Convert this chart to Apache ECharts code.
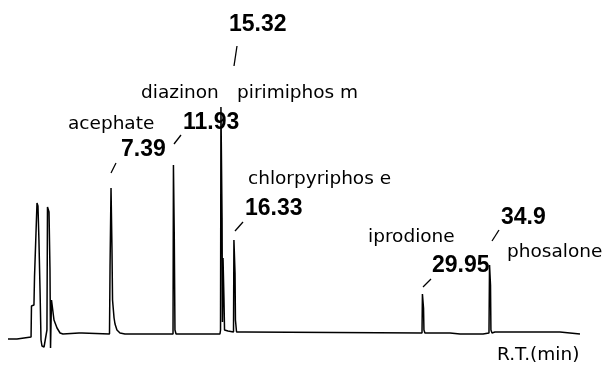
<!DOCTYPE html>
<html><head><meta charset="utf-8">
<script src="https://cdn.jsdelivr.net/npm/echarts@6/dist/echarts.min.js"></script>
<style>html,body{margin:0;padding:0;background:#fff}#c{width:604px;height:367px}</style>
</head><body><div id="c"></div>
<script>
// Retention time (min)
const retentionTimes = [0,0.65,0.72,1.67,1.70,1.88,1.92,2.03,2.10,2.17,2.24,2.32,2.39,2.46,2.61,2.75,2.82,2.86,2.97,3.04,3.08,3.11,3.15,3.26,3.33,3.55,3.77,3.98,5.14,5.36,5.40,
  7.35,7.39,7.46,7.53,7.57,7.60,7.68,7.75,7.89,8.11,8.47,
  11.95,11.98,12.04,12.09,12.17,
  15.35,15.39,15.42,15.50,15.53,15.57,15.64,15.68,15.79,15.93,16.33,16.36,16.44,16.47,16.55,17.16,
  29.98,30.01,30.09,30.12,30.19,32.01,32.08,32.73,34.40,
  34.83,34.87,34.94,34.97,35.05,35.26,39.97,40.04,41.42];
// Detector response (arbitrary units)
const responses = [-5,-5,-3,-3,28,29,57,58,131,128,94,44,-6,-12,-13,-12,4,127,122,64,-14,-12,34,32,14,6,1,0,1,1,0,
  0,68,146,84,34,29,16,10,4,1,0,
  0,169,98,4,0,
  0,4,227,116,12,76,34,4,3,3,2,94,61,14,2,2,
  1,40,26,4,1,1,0,0,0,
  1,69,49,4,1,2,2,0,0];
// Peak annotations
const compoundNames = ["acephate","diazinon","pirimiphos m","chlorpyriphos e","iprodione","phosalone"];
const peakTimeLabels = ["7.39","11.93","15.32","16.33","29.95","34.9"];
const axisTitle = "R.T.(min)";

const trace = retentionTimes.map((t,i)=>[t,responses[i]]);

const nameFont = '18.5px "DejaVu Sans"';
const numFont = 'bold 23px "Liberation Sans"';
function txt(text,x,y,font){return {type:'text',x:x,y:y,style:{text:text,font:font,fill:'#000',verticalAlign:'top',align:'left'}};}
function seg(x1,y1,x2,y2){return {type:'line',shape:{x1:x1,y1:y1,x2:x2,y2:y2},style:{stroke:'#000',lineWidth:1.3}};}

const chart = echarts.init(document.getElementById('c'));
chart.setOption({
  animation:false,
  backgroundColor:'#fff',
  grid:{left:8,width:580,top:94,height:260},
  xAxis:{type:'value',min:0,max:42,show:false},
  yAxis:{type:'value',min:-20,max:240,show:false},
  series:[{type:'line',data:trace,showSymbol:false,symbol:'none',
    lineStyle:{color:'#000',width:1.5},silent:true}],
  graphic:[
    txt(peakTimeLabels[2],229,13,numFont),
    seg(237,46,234,66),
    txt(compoundNames[1],141,84,nameFont),
    txt(compoundNames[2],237,84,nameFont),
    txt(compoundNames[0],68,115,nameFont),
    txt(peakTimeLabels[1],183,111,numFont),
    seg(181,135,174,144),
    txt(peakTimeLabels[0],121,138,numFont),
    seg(116,163,111,173),
    txt(compoundNames[3],248,170,nameFont),
    txt(peakTimeLabels[3],245,197,numFont),
    seg(243,222,235,231),
    txt(compoundNames[4],368,228,nameFont),
    txt(peakTimeLabels[4],432,254,numFont),
    seg(431,279,423,287),
    txt(peakTimeLabels[5],501,206,numFont),
    seg(499,230,492,241),
    txt(compoundNames[5],507,243,nameFont),
    txt(axisTitle,497,346,nameFont)
  ]
});
</script></body></html>
